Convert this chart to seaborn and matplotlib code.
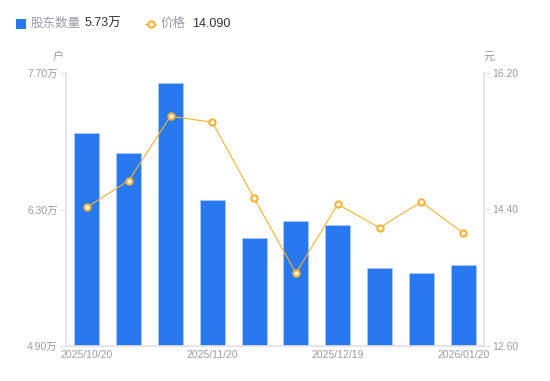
import numpy as np
import pandas as pd
import matplotlib
matplotlib.use("Agg")
import matplotlib.pyplot as plt
import seaborn as sns
from matplotlib.lines import Line2D
from matplotlib.patches import Rectangle

# data
dates = ["2025/10/20", "2025/10/31", "2025/11/10", "2025/11/20", "2025/11/28",
         "2025/12/10", "2025/12/19", "2025/12/31", "2026/01/10", "2026/01/20"]
holders = [7.08, 6.88, 7.60, 6.40, 6.01, 6.18, 6.14, 5.70, 5.65, 5.73]  # 万户
price = [14.43, 14.78, 15.63, 15.55, 14.55, 13.56, 14.47, 14.16, 14.50, 14.09]  # 元
shown_ticks = [0, 3, 6, 9]

BLUE = "#2878f0"
ORANGE = "#f8b133"
GREY = "#9a9aaa"
AXIS = "#e2e2e8"

sns.set_theme(style="white")
plt.rcParams["font.family"] = ["Liberation Sans", "Noto Sans CJK SC", "DejaVu Sans"]

df = pd.DataFrame({"date": dates, "holders": holders, "price": price, "idx": range(len(dates))})

fig = plt.figure(figsize=(5.5, 3.81), dpi=100)
ax = fig.add_axes([66 / 550, 1 - 346 / 381, (484 - 66) / 550, (346 - 73) / 381])

sns.barplot(data=df, x="date", y="holders", color=BLUE, saturation=1, width=0.6,
            edgecolor="#a8c6f7", linewidth=0.7, ax=ax)
ax.set_ylim(4.90, 7.70)
ax.set_yticks([4.90, 6.30, 7.70])
ax.set_yticklabels([f"{v:.2f}万" for v in [4.90, 6.30, 7.70]])
ax.set_xlim(-0.5, len(dates) - 0.5)
ax.set_xticks(shown_ticks)
ax.set_xticklabels([dates[i] for i in shown_ticks])
ax.set_xlabel("")
ax.set_ylabel("")

ax2 = ax.twinx()
sns.lineplot(data=df, x="idx", y="price", color=ORANGE, linewidth=0.8, marker="o",
             markersize=4.5, markerfacecolor="white", markeredgecolor=ORANGE,
             markeredgewidth=1.5, ax=ax2)
ax2.set_ylim(12.60, 16.20)
ax2.set_yticks([12.60, 14.40, 16.20])
ax2.set_yticklabels([f"{v:.2f}" for v in [12.60, 14.40, 16.20]])
ax2.set_ylabel("")
ax2.set_xlim(-0.5, len(dates) - 0.5)

for a in (ax, ax2):
    for s in a.spines.values():
        s.set_visible(False)
    a.grid(False)
ax.spines["left"].set_visible(True)
ax.spines["bottom"].set_visible(True)
ax2.spines["right"].set_visible(True)
for s in ("left", "bottom"):
    ax.spines[s].set_color(AXIS)
ax2.spines["right"].set_color(AXIS)

ax.tick_params(axis="y", length=4, width=0.8, color=AXIS, labelsize=7.5, labelcolor=GREY, pad=2, left=True)
ax.tick_params(axis="x", length=0, labelsize=7.5, labelcolor=GREY, pad=3)
ax2.tick_params(axis="y", length=4, width=0.8, color=AXIS, labelsize=7.5, labelcolor=GREY, pad=2, right=True)

# unit labels
fig.text(58 / 550, 1 - 57 / 381, "户", fontsize=8, color=GREY, ha="center", va="center")
fig.text(489 / 550, 1 - 57 / 381, "元", fontsize=8, color=GREY, ha="center", va="center")

# legend at the top
ly = 1 - 24 / 381
fig.add_artist(Rectangle((16 / 550, 1 - 29 / 381), 10 / 550, 10 / 381,
                         transform=fig.transFigure, color=BLUE, lw=0))
fig.text(31 / 550, ly, "股东数量", fontsize=9, color=GREY, va="center")
fig.text(85 / 550, ly, f"{holders[-1]:.2f}万", fontsize=9, color="#333333", va="center")
fig.add_artist(Line2D([145 / 550, 156 / 550], [ly, ly], transform=fig.transFigure,
                      color=ORANGE, lw=1))
fig.add_artist(Line2D([150.5 / 550], [ly], transform=fig.transFigure, marker="o",
                      markersize=4.5, markerfacecolor="white", markeredgecolor=ORANGE,
                      markeredgewidth=1.5))
fig.text(161 / 550, ly, "价格", fontsize=9, color=GREY, va="center")
fig.text(192 / 550, ly, f"{price[-1]:.3f}", fontsize=9, color="#333333", va="center")

fig.savefig("out.png", dpi=100)
